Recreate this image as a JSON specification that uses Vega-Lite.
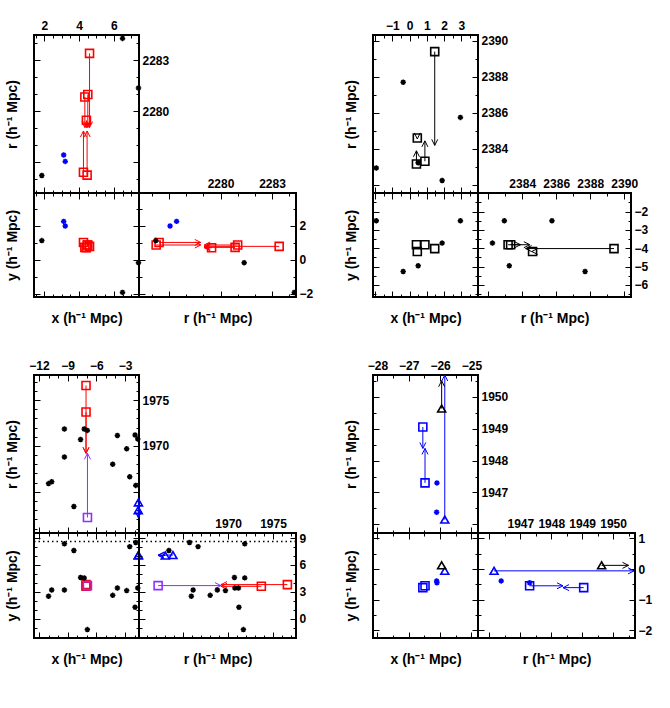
{
"$schema":"https://vega.github.io/schema/vega-lite/v6.json",
"padding":{"left":4,"top":18,"right":0,"bottom":0},
"background":"white",
"columns":5,"spacing":0,"bounds":"flush","align":"each",
"datasets":{
"g1":[
{"x":4.6,"y":0.78,"r":2283.42,"rn":2279.05,"s":"s1"},
{"x":4.5,"y":0.86,"r":2281.0,"rn":2279.05,"s":"s1"},
{"x":4.33,"y":0.72,"r":2280.85,"rn":2279.05,"s":"s1"},
{"x":4.42,"y":0.7,"r":2279.48,"rn":2279.05,"s":"s1"},
{"x":4.25,"y":1.01,"r":2276.42,"rn":2278.85,"s":"s1"},
{"x":4.46,"y":0.86,"r":2276.25,"rn":2278.85,"s":"s1"},
{"x":3.11,"y":2.25,"r":2277.44,"s":"f1"},
{"x":3.2,"y":1.98,"r":2277.06,"s":"f1"},
{"x":1.85,"y":1.12,"r":2276.23,"s":"f0"},
{"x":6.5,"y":-1.93,"r":2284.3,"s":"f0"},
{"x":7.42,"y":-0.18,"r":2281.38,"s":"f0"}],
"g2":[
{"x":1.46,"y":-4.02,"r":2389.4,"rn":2384.2,"s":"s2"},
{"x":0.4,"y":-3.81,"r":2383.17,"rn":2383.9,"s":"s2"},
{"x":0.89,"y":-3.81,"r":2383.32,"rn":2384.45,"s":"s2"},
{"x":0.45,"y":-4.18,"r":2384.61,"rn":2384.56,"s":"s2"},
{"x":-1.93,"y":-2.5,"r":2382.95,"s":"f0"},
{"x":2.95,"y":-2.5,"r":2385.75,"s":"f0"},
{"x":1.89,"y":-3.72,"r":2382.25,"s":"f0"},
{"x":-0.37,"y":-5.27,"r":2387.7,"s":"f0"},
{"x":0.5,"y":-4.96,"r":2383.24,"s":"f0"}],
"g3":[
{"x":-7.08,"y":3.8,"r":1976.6,"rn":1969.2,"s":"s1"},
{"x":-7.08,"y":3.61,"r":1973.7,"rn":1969.2,"s":"s1"},
{"x":-6.93,"y":3.69,"r":1962.2,"rn":1969.2,"s":"s3"},
{"x":-1.6,"y":7.1,"r":1963.85,"rn":1962.2,"s":"t1"},
{"x":-1.62,"y":7.05,"r":1963.0,"rn":1962.2,"s":"t1"},
{"x":-9.34,"y":8.35,"r":1971.85,"s":"f0"},
{"x":-7.27,"y":4.55,"r":1971.85,"s":"f0"},
{"x":-6.94,"y":-1.22,"r":1971.7,"s":"f0"},
{"x":-7.65,"y":4.6,"r":1970.7,"s":"f0"},
{"x":-9.34,"y":3.2,"r":1968.8,"s":"f0"},
{"x":-11.0,"y":2.5,"r":1965.9,"s":"f0"},
{"x":-10.67,"y":3.2,"r":1966.1,"s":"f0"},
{"x":-8.35,"y":7.6,"r":1963.4,"s":"f0"},
{"x":-3.8,"y":3.42,"r":1971.15,"s":"f0"},
{"x":-2.83,"y":3.13,"r":1969.7,"s":"f0"},
{"x":-4.29,"y":2.6,"r":1968.0,"s":"f0"},
{"x":-2.51,"y":8.04,"r":1966.65,"s":"f0"},
{"x":-1.88,"y":8.5,"r":1965.7,"s":"f0"},
{"x":-1.95,"y":1.27,"r":1971.2,"s":"f0"},
{"x":-1.67,"y":3.42,"r":1970.75,"s":"f0"}],
"g4":[
{"x":-26.55,"y":-0.61,"r":1949.05,"rn":1948.38,"s":"s4"},
{"x":-26.48,"y":-0.55,"r":1947.3,"rn":1948.38,"s":"s4"},
{"x":-25.85,"y":-0.06,"r":1946.15,"rn":1950.68,"s":"t1"},
{"x":-25.95,"y":0.12,"r":1949.63,"rn":1950.5,"s":"t2"},
{"x":-26.11,"y":-0.39,"r":1946.38,"s":"f1"},
{"x":-26.1,"y":-0.45,"r":1947.3,"s":"f1"}]
},
"concat":[
{"width":105,"height":158,"view":{"stroke":"black","strokeWidth":2},"data":{"name":"g1"},"resolve":{"axis":{"x":"independent","y":"independent"}},"layer":[
{"transform":[{"filter":"isValid(datum.rn)"}],"mark":{"type":"rule","strokeWidth":1},"encoding":{
"x":{"field":"x","type":"quantitative","scale":{"domain":[1.4,7.45],"nice":false,"zero":false},"axis":{"orient":"bottom","values":[1.5,2,2.5,3,3.5,4,4.5,5,5.5,6,6.5,7],"labels":false,"title":null,"domain":false,"ticks":true,"tickColor":"black","tickWidth":1,"tickSize":{"condition":{"test":"indexof([2,4,6],datum.value)>=0","value":-6},"value":-3}}},
"y":{"field":"r","type":"quantitative","scale":{"domain":[2275.2,2284.5],"nice":false,"zero":false},"axis":{"orient":"left","values":[2276,2277,2278,2279,2280,2281,2282,2283,2284],"labels":false,"title":"r (h⁻¹ Mpc)","domain":false,"ticks":true,"tickColor":"black","tickWidth":1,"tickSize":{"condition":{"test":"indexof([2277,2280,2283],datum.value)>=0","value":-6},"value":-3}}},
"y2":{"field":"rn"},
"color":{"field":"s","type":"nominal","scale":{"domain":["s1","s2","s3","s4","t1","t2","f0","f1"],"range":["#ff0000","#000000","#9030ff","#0000ff","#0000ff","#000000","#000000","#0000ff"]},"legend":null}}},
{"transform":[{"filter":"isValid(datum.rn)"}],"mark":{"type":"point","shape":"M-1,-0.5L0,0L-1,0.5","filled":false,"size":144,"strokeWidth":1,"opacity":1},"encoding":{
"x":{"field":"x","type":"quantitative","axis":{"orient":"top","values":[1.5,2,2.5,3,3.5,4,4.5,5,5.5,6,6.5,7],"labels":false,"title":null,"domain":false,"ticks":true,"tickColor":"black","tickWidth":1,"tickSize":{"condition":{"test":"indexof([2,4,6],datum.value)>=0","value":-6},"value":-3}}},
"y":{"field":"rn","type":"quantitative","axis":{"orient":"right","values":[2276,2277,2278,2279,2280,2281,2282,2283,2284],"labels":false,"title":null,"domain":false,"ticks":true,"tickColor":"black","tickWidth":1,"tickSize":{"condition":{"test":"indexof([2277,2280,2283],datum.value)>=0","value":-6},"value":-3}}},
"angle":{"condition":{"test":"datum.rn < datum.r","value":90},"value":270},
"color":{"field":"s","type":"nominal","legend":null}}},
{"transform":[{"filter":{"not":{"field":"s","oneOf":["f0","f1"]}}}],"mark":{"type":"point","filled":false,"size":64,"strokeWidth":1.6,"opacity":1},"encoding":{
"x":{"field":"x","type":"quantitative","axis":{"orient":"top","values":[2,4,6],"ticks":false,"domain":false,"format":"d","title":null}},
"y":{"field":"r","type":"quantitative","axis":{"orient":"right","values":[2280,2283],"ticks":false,"domain":false,"format":"d","title":null}},
"shape":{"field":"s","type":"nominal","scale":{"domain":["s1","s2","s3","s4","t1","t2"],"range":["square","square","square","square","triangle-up","triangle-up"]},"legend":null},
"color":{"field":"s","type":"nominal","legend":null}}},
{"transform":[{"filter":{"field":"s","oneOf":["f0","f1"]}}],"mark":{"type":"point","shape":"M-1,0L1,0M0,-1L0,1M-0.7,-0.7L0.7,0.7M-0.7,0.7L0.7,-0.7","filled":false,"size":30,"strokeWidth":1.5,"opacity":1},"encoding":{
"x":{"field":"x","type":"quantitative","axis":null},
"y":{"field":"r","type":"quantitative","axis":null},
"color":{"field":"s","type":"nominal","legend":null}}}
]},
{"width":1,"height":1,"data":{"values":[{}]},"mark":{"type":"point","opacity":0},"encoding":{}},
{"width":1,"height":1,"data":{"values":[{}]},"mark":{"type":"point","opacity":0},"encoding":{}},
{"width":105,"height":158,"view":{"stroke":"black","strokeWidth":2},"data":{"name":"g2"},"resolve":{"axis":{"x":"independent","y":"independent"}},"layer":[
{"transform":[{"filter":"isValid(datum.rn)"}],"mark":{"type":"rule","strokeWidth":1},"encoding":{
"x":{"field":"x","type":"quantitative","scale":{"domain":[-2.12,3.97],"nice":false,"zero":false},"axis":{"orient":"bottom","values":[-2,-1.5,-1,-0.5,0,0.5,1,1.5,2,2.5,3,3.5],"labels":false,"title":null,"domain":false,"ticks":true,"tickColor":"black","tickWidth":1,"tickSize":{"condition":{"test":"indexof([-2,-1,0,1,2,3],datum.value)>=0","value":-6},"value":-3}}},
"y":{"field":"r","type":"quantitative","scale":{"domain":[2381.56,2390.32],"nice":false,"zero":false},"axis":{"orient":"left","values":[2382,2383,2384,2385,2386,2387,2388,2389,2390],"labels":false,"title":"r (h⁻¹ Mpc)","domain":false,"ticks":true,"tickColor":"black","tickWidth":1,"tickSize":{"condition":{"test":"indexof([2382,2384,2386,2388,2390],datum.value)>=0","value":-6},"value":-3}}},
"y2":{"field":"rn"},
"color":{"field":"s","type":"nominal","legend":null}}},
{"transform":[{"filter":"isValid(datum.rn)"}],"mark":{"type":"point","shape":"M-1,-0.5L0,0L-1,0.5","filled":false,"size":144,"strokeWidth":1,"opacity":1},"encoding":{
"x":{"field":"x","type":"quantitative","axis":{"orient":"top","values":[-2,-1.5,-1,-0.5,0,0.5,1,1.5,2,2.5,3,3.5],"labels":false,"title":null,"domain":false,"ticks":true,"tickColor":"black","tickWidth":1,"tickSize":{"condition":{"test":"indexof([-2,-1,0,1,2,3],datum.value)>=0","value":-6},"value":-3}}},
"y":{"field":"rn","type":"quantitative","axis":{"orient":"right","values":[2382,2383,2384,2385,2386,2387,2388,2389,2390],"labels":false,"title":null,"domain":false,"ticks":true,"tickColor":"black","tickWidth":1,"tickSize":{"condition":{"test":"indexof([2382,2384,2386,2388,2390],datum.value)>=0","value":-6},"value":-3}}},
"angle":{"condition":{"test":"datum.rn < datum.r","value":90},"value":270},
"color":{"field":"s","type":"nominal","legend":null}}},
{"transform":[{"filter":{"not":{"field":"s","oneOf":["f0","f1"]}}}],"mark":{"type":"point","filled":false,"size":64,"strokeWidth":1.6,"opacity":1},"encoding":{
"x":{"field":"x","type":"quantitative","axis":{"orient":"top","values":[-1,0,1,2,3],"ticks":false,"domain":false,"format":"d","title":null}},
"y":{"field":"r","type":"quantitative","axis":{"orient":"right","values":[2384,2386,2388,2390],"ticks":false,"domain":false,"format":"d","title":null}},
"shape":{"field":"s","type":"nominal","legend":null},
"color":{"field":"s","type":"nominal","legend":null}}},
{"transform":[{"filter":{"field":"s","oneOf":["f0","f1"]}}],"mark":{"type":"point","shape":"M-1,0L1,0M0,-1L0,1M-0.7,-0.7L0.7,0.7M-0.7,0.7L0.7,-0.7","filled":false,"size":30,"strokeWidth":1.5,"opacity":1},"encoding":{
"x":{"field":"x","type":"quantitative","axis":null},
"y":{"field":"r","type":"quantitative","axis":null},
"color":{"field":"s","type":"nominal","legend":null}}}
]},
{"width":1,"height":1,"data":{"values":[{}]},"mark":{"type":"point","opacity":0},"encoding":{}},

{"width":105,"height":104,"view":{"stroke":"black","strokeWidth":2},"data":{"name":"g1"},"resolve":{"axis":{"x":"independent","y":"independent"}},"layer":[
{"transform":[{"filter":{"not":{"field":"s","oneOf":["f0","f1"]}}}],"mark":{"type":"point","filled":false,"size":64,"strokeWidth":1.6,"opacity":1},"encoding":{
"x":{"field":"x","type":"quantitative","scale":{"domain":[1.4,7.45],"nice":false,"zero":false},"axis":{"orient":"bottom","values":[1.5,2,2.5,3,3.5,4,4.5,5,5.5,6,6.5,7],"labels":false,"title":"x (h⁻¹ Mpc)","domain":false,"ticks":true,"tickColor":"black","tickWidth":1,"tickSize":{"condition":{"test":"indexof([2,4,6],datum.value)>=0","value":-6},"value":-3}}},
"y":{"field":"y","type":"quantitative","scale":{"domain":[-2.2,3.92],"nice":false,"zero":false},"axis":{"orient":"left","values":[-2,-1,0,1,2,3],"labels":false,"title":"y (h⁻¹ Mpc)","domain":false,"ticks":true,"tickColor":"black","tickWidth":1,"tickSize":{"condition":{"test":"indexof([-2,0,2],datum.value)>=0","value":-6},"value":-3}}},
"shape":{"field":"s","type":"nominal","legend":null},
"color":{"field":"s","type":"nominal","legend":null}}},
{"transform":[{"filter":{"field":"s","oneOf":["f0","f1"]}}],"mark":{"type":"point","shape":"M-1,0L1,0M0,-1L0,1M-0.7,-0.7L0.7,0.7M-0.7,0.7L0.7,-0.7","filled":false,"size":30,"strokeWidth":1.5,"opacity":1},"encoding":{
"x":{"field":"x","type":"quantitative","axis":{"orient":"top","values":[1.5,2,2.5,3,3.5,4,4.5,5,5.5,6,6.5,7],"labels":false,"title":null,"domain":false,"ticks":true,"tickColor":"black","tickWidth":1,"tickSize":{"condition":{"test":"indexof([2,4,6],datum.value)>=0","value":-6},"value":-3}}},
"y":{"field":"y","type":"quantitative","axis":{"orient":"right","values":[-2,-1,0,1,2,3],"labels":false,"title":null,"domain":false,"ticks":true,"tickColor":"black","tickWidth":1,"tickSize":{"condition":{"test":"indexof([-2,0,2],datum.value)>=0","value":-6},"value":-3}}},
"color":{"field":"s","type":"nominal","legend":null}}}
]},
{"width":157,"height":104,"view":{"stroke":"black","strokeWidth":2},"data":{"name":"g1"},"resolve":{"axis":{"x":"independent","y":"independent"}},"layer":[
{"transform":[{"filter":"isValid(datum.rn)"}],"mark":{"type":"rule","strokeWidth":1},"encoding":{
"x":{"field":"r","type":"quantitative","scale":{"domain":[2275.25,2284.4],"nice":false,"zero":false},"axis":{"orient":"bottom","values":[2276,2277,2278,2279,2280,2281,2282,2283,2284],"labels":false,"title":"r (h⁻¹ Mpc)","domain":false,"ticks":true,"tickColor":"black","tickWidth":1,"tickSize":{"condition":{"test":"indexof([2277,2280,2283],datum.value)>=0","value":-6},"value":-3}}},
"x2":{"field":"rn"},
"y":{"field":"y","type":"quantitative","scale":{"domain":[-2.2,3.92],"nice":false,"zero":false},"axis":{"orient":"left","values":[-2,-1,0,1,2,3],"labels":false,"title":null,"domain":false,"ticks":true,"tickColor":"black","tickWidth":1,"tickSize":{"condition":{"test":"indexof([-2,0,2],datum.value)>=0","value":-6},"value":-3}}},
"color":{"field":"s","type":"nominal","legend":null}}},
{"transform":[{"filter":"isValid(datum.rn)"}],"mark":{"type":"point","shape":"M-1,-0.5L0,0L-1,0.5","filled":false,"size":144,"strokeWidth":1,"opacity":1},"encoding":{
"x":{"field":"rn","type":"quantitative","axis":{"orient":"top","values":[2276,2277,2278,2279,2280,2281,2282,2283,2284],"labels":false,"title":null,"domain":false,"ticks":true,"tickColor":"black","tickWidth":1,"tickSize":{"condition":{"test":"indexof([2277,2280,2283],datum.value)>=0","value":-6},"value":-3}}},
"y":{"field":"y","type":"quantitative","axis":{"orient":"right","values":[-2,-1,0,1,2,3],"labels":false,"title":null,"domain":false,"ticks":true,"tickColor":"black","tickWidth":1,"tickSize":{"condition":{"test":"indexof([-2,0,2],datum.value)>=0","value":-6},"value":-3}}},
"angle":{"condition":{"test":"datum.rn < datum.r","value":180},"value":0},
"color":{"field":"s","type":"nominal","legend":null}}},
{"transform":[{"filter":{"not":{"field":"s","oneOf":["f0","f1"]}}}],"mark":{"type":"point","filled":false,"size":64,"strokeWidth":1.6,"opacity":1},"encoding":{
"x":{"field":"r","type":"quantitative","axis":{"orient":"top","values":[2280,2283],"ticks":false,"domain":false,"format":"d","title":null}},
"y":{"field":"y","type":"quantitative","axis":{"orient":"right","values":[-2,0,2],"ticks":false,"domain":false,"format":"d","title":null}},
"shape":{"field":"s","type":"nominal","legend":null},
"color":{"field":"s","type":"nominal","legend":null}}},
{"transform":[{"filter":{"field":"s","oneOf":["f0","f1"]}}],"mark":{"type":"point","shape":"M-1,0L1,0M0,-1L0,1M-0.7,-0.7L0.7,0.7M-0.7,0.7L0.7,-0.7","filled":false,"size":30,"strokeWidth":1.5,"opacity":1},"encoding":{
"x":{"field":"r","type":"quantitative","axis":null},
"y":{"field":"y","type":"quantitative","axis":null},
"color":{"field":"s","type":"nominal","legend":null}}}
]},
{"width":1,"height":1,"data":{"values":[{}]},"mark":{"type":"point","opacity":0},"encoding":{}},
{"width":105,"height":104,"view":{"stroke":"black","strokeWidth":2},"data":{"name":"g2"},"resolve":{"axis":{"x":"independent","y":"independent"}},"layer":[
{"transform":[{"filter":{"not":{"field":"s","oneOf":["f0","f1"]}}}],"mark":{"type":"point","filled":false,"size":64,"strokeWidth":1.6,"opacity":1},"encoding":{
"x":{"field":"x","type":"quantitative","scale":{"domain":[-2.12,3.97],"nice":false,"zero":false},"axis":{"orient":"bottom","values":[-2,-1.5,-1,-0.5,0,0.5,1,1.5,2,2.5,3,3.5],"labels":false,"title":"x (h⁻¹ Mpc)","domain":false,"ticks":true,"tickColor":"black","tickWidth":1,"tickSize":{"condition":{"test":"indexof([-2,-1,0,1,2,3],datum.value)>=0","value":-6},"value":-3}}},
"y":{"field":"y","type":"quantitative","scale":{"domain":[-6.66,-0.99],"nice":false,"zero":false},"axis":{"orient":"left","values":[-6.5,-6,-5.5,-5,-4.5,-4,-3.5,-3,-2.5,-2,-1.5,-1],"labels":false,"title":"y (h⁻¹ Mpc)","domain":false,"ticks":true,"tickColor":"black","tickWidth":1,"tickSize":{"condition":{"test":"indexof([-6,-5,-4,-3,-2],datum.value)>=0","value":-6},"value":-3}}},
"shape":{"field":"s","type":"nominal","legend":null},
"color":{"field":"s","type":"nominal","legend":null}}},
{"transform":[{"filter":{"field":"s","oneOf":["f0","f1"]}}],"mark":{"type":"point","shape":"M-1,0L1,0M0,-1L0,1M-0.7,-0.7L0.7,0.7M-0.7,0.7L0.7,-0.7","filled":false,"size":30,"strokeWidth":1.5,"opacity":1},"encoding":{
"x":{"field":"x","type":"quantitative","axis":{"orient":"top","values":[-2,-1.5,-1,-0.5,0,0.5,1,1.5,2,2.5,3,3.5],"labels":false,"title":null,"domain":false,"ticks":true,"tickColor":"black","tickWidth":1,"tickSize":{"condition":{"test":"indexof([-2,-1,0,1,2,3],datum.value)>=0","value":-6},"value":-3}}},
"y":{"field":"y","type":"quantitative","axis":{"orient":"right","values":[-6.5,-6,-5.5,-5,-4.5,-4,-3.5,-3,-2.5,-2,-1.5,-1],"labels":false,"title":null,"domain":false,"ticks":true,"tickColor":"black","tickWidth":1,"tickSize":{"condition":{"test":"indexof([-6,-5,-4,-3,-2],datum.value)>=0","value":-6},"value":-3}}},
"color":{"field":"s","type":"nominal","legend":null}}}
]},
{"width":153,"height":104,"view":{"stroke":"black","strokeWidth":2},"data":{"name":"g2"},"resolve":{"axis":{"x":"independent","y":"independent"}},"layer":[
{"transform":[{"filter":"isValid(datum.rn)"}],"mark":{"type":"rule","strokeWidth":1},"encoding":{
"x":{"field":"r","type":"quantitative","scale":{"domain":[2381.4,2390.4],"nice":false,"zero":false},"axis":{"orient":"bottom","values":[2382,2383,2384,2385,2386,2387,2388,2389,2390],"labels":false,"title":"r (h⁻¹ Mpc)","domain":false,"ticks":true,"tickColor":"black","tickWidth":1,"tickSize":{"condition":{"test":"indexof([2382,2384,2386,2388,2390],datum.value)>=0","value":-6},"value":-3}}},
"x2":{"field":"rn"},
"y":{"field":"y","type":"quantitative","scale":{"domain":[-6.66,-0.99],"nice":false,"zero":false},"axis":{"orient":"left","values":[-6.5,-6,-5.5,-5,-4.5,-4,-3.5,-3,-2.5,-2,-1.5,-1],"labels":false,"title":null,"domain":false,"ticks":true,"tickColor":"black","tickWidth":1,"tickSize":{"condition":{"test":"indexof([-6,-5,-4,-3,-2],datum.value)>=0","value":-6},"value":-3}}},
"color":{"field":"s","type":"nominal","legend":null}}},
{"transform":[{"filter":"isValid(datum.rn)"}],"mark":{"type":"point","shape":"M-1,-0.5L0,0L-1,0.5","filled":false,"size":144,"strokeWidth":1,"opacity":1},"encoding":{
"x":{"field":"rn","type":"quantitative","axis":{"orient":"top","values":[2382,2383,2384,2385,2386,2387,2388,2389,2390],"labels":false,"title":null,"domain":false,"ticks":true,"tickColor":"black","tickWidth":1,"tickSize":{"condition":{"test":"indexof([2382,2384,2386,2388,2390],datum.value)>=0","value":-6},"value":-3}}},
"y":{"field":"y","type":"quantitative","axis":{"orient":"right","values":[-6.5,-6,-5.5,-5,-4.5,-4,-3.5,-3,-2.5,-2,-1.5,-1],"labels":false,"title":null,"domain":false,"ticks":true,"tickColor":"black","tickWidth":1,"tickSize":{"condition":{"test":"indexof([-6,-5,-4,-3,-2],datum.value)>=0","value":-6},"value":-3}}},
"angle":{"condition":{"test":"datum.rn < datum.r","value":180},"value":0},
"color":{"field":"s","type":"nominal","legend":null}}},
{"transform":[{"filter":{"not":{"field":"s","oneOf":["f0","f1"]}}}],"mark":{"type":"point","filled":false,"size":64,"strokeWidth":1.6,"opacity":1},"encoding":{
"x":{"field":"r","type":"quantitative","axis":{"orient":"top","values":[2384,2386,2388,2390],"ticks":false,"domain":false,"format":"d","title":null}},
"y":{"field":"y","type":"quantitative","axis":{"orient":"right","values":[-6,-5,-4,-3,-2],"ticks":false,"domain":false,"format":"d","title":null}},
"shape":{"field":"s","type":"nominal","legend":null},
"color":{"field":"s","type":"nominal","legend":null}}},
{"transform":[{"filter":{"field":"s","oneOf":["f0","f1"]}}],"mark":{"type":"point","shape":"M-1,0L1,0M0,-1L0,1M-0.7,-0.7L0.7,0.7M-0.7,0.7L0.7,-0.7","filled":false,"size":30,"strokeWidth":1.5,"opacity":1},"encoding":{
"x":{"field":"r","type":"quantitative","axis":null},
"y":{"field":"y","type":"quantitative","axis":null},
"color":{"field":"s","type":"nominal","legend":null}}}
]},

{"width":1,"height":1,"data":{"values":[{}]},"mark":{"type":"point","opacity":0},"encoding":{}},
{"width":1,"height":1,"data":{"values":[{}]},"mark":{"type":"point","opacity":0},"encoding":{}},
{"width":77,"height":78,"data":{"values":[{}]},"mark":{"type":"point","opacity":0},"encoding":{}},
{"width":1,"height":1,"data":{"values":[{}]},"mark":{"type":"point","opacity":0},"encoding":{}},
{"width":1,"height":1,"data":{"values":[{}]},"mark":{"type":"point","opacity":0},"encoding":{}},

{"width":105,"height":158,"view":{"stroke":"black","strokeWidth":2},"data":{"name":"g3"},"resolve":{"axis":{"x":"independent","y":"independent"}},"layer":[
{"transform":[{"filter":"isValid(datum.rn)"}],"mark":{"type":"rule","strokeWidth":1},"encoding":{
"x":{"field":"x","type":"quantitative","scale":{"domain":[-12.52,-1.54],"nice":false,"zero":false},"axis":{"orient":"bottom","values":[-12,-11,-10,-9,-8,-7,-6,-5,-4,-3,-2],"labels":false,"title":null,"domain":false,"ticks":true,"tickColor":"black","tickWidth":1,"tickSize":{"condition":{"test":"indexof([-12,-9,-6,-3],datum.value)>=0","value":-6},"value":-3}}},
"y":{"field":"r","type":"quantitative","scale":{"domain":[1960.51,1977.74],"nice":false,"zero":false},"axis":{"orient":"left","values":[1961,1962,1963,1964,1965,1966,1967,1968,1969,1970,1971,1972,1973,1974,1975,1976,1977],"labels":false,"title":"r (h⁻¹ Mpc)","domain":false,"ticks":true,"tickColor":"black","tickWidth":1,"tickSize":{"condition":{"test":"indexof([1965,1970,1975],datum.value)>=0","value":-6},"value":-3}}},
"y2":{"field":"rn"},
"color":{"field":"s","type":"nominal","legend":null}}},
{"transform":[{"filter":"isValid(datum.rn)"}],"mark":{"type":"point","shape":"M-1,-0.5L0,0L-1,0.5","filled":false,"size":144,"strokeWidth":1,"opacity":1},"encoding":{
"x":{"field":"x","type":"quantitative","axis":{"orient":"top","values":[-12,-11,-10,-9,-8,-7,-6,-5,-4,-3,-2],"labels":false,"title":null,"domain":false,"ticks":true,"tickColor":"black","tickWidth":1,"tickSize":{"condition":{"test":"indexof([-12,-9,-6,-3],datum.value)>=0","value":-6},"value":-3}}},
"y":{"field":"rn","type":"quantitative","axis":{"orient":"right","values":[1961,1962,1963,1964,1965,1966,1967,1968,1969,1970,1971,1972,1973,1974,1975,1976,1977],"labels":false,"title":null,"domain":false,"ticks":true,"tickColor":"black","tickWidth":1,"tickSize":{"condition":{"test":"indexof([1965,1970,1975],datum.value)>=0","value":-6},"value":-3}}},
"angle":{"condition":{"test":"datum.rn < datum.r","value":90},"value":270},
"color":{"field":"s","type":"nominal","legend":null}}},
{"transform":[{"filter":{"not":{"field":"s","oneOf":["f0","f1"]}}}],"mark":{"type":"point","filled":false,"size":64,"strokeWidth":1.6,"opacity":1},"encoding":{
"x":{"field":"x","type":"quantitative","axis":{"orient":"top","values":[-12,-9,-6,-3],"ticks":false,"domain":false,"format":"d","title":null}},
"y":{"field":"r","type":"quantitative","axis":{"orient":"right","values":[1970,1975],"ticks":false,"domain":false,"format":"d","title":null}},
"shape":{"field":"s","type":"nominal","legend":null},
"color":{"field":"s","type":"nominal","legend":null}}},
{"transform":[{"filter":{"field":"s","oneOf":["f0","f1"]}}],"mark":{"type":"point","shape":"M-1,0L1,0M0,-1L0,1M-0.7,-0.7L0.7,0.7M-0.7,0.7L0.7,-0.7","filled":false,"size":30,"strokeWidth":1.5,"opacity":1},"encoding":{
"x":{"field":"x","type":"quantitative","axis":null},
"y":{"field":"r","type":"quantitative","axis":null},
"color":{"field":"s","type":"nominal","legend":null}}}
]},
{"width":1,"height":1,"data":{"values":[{}]},"mark":{"type":"point","opacity":0},"encoding":{}},
{"width":1,"height":1,"data":{"values":[{}]},"mark":{"type":"point","opacity":0},"encoding":{}},
{"width":105,"height":158,"view":{"stroke":"black","strokeWidth":2},"data":{"name":"g4"},"resolve":{"axis":{"x":"independent","y":"independent"}},"layer":[
{"transform":[{"filter":"isValid(datum.rn)"}],"mark":{"type":"rule","strokeWidth":1},"encoding":{
"x":{"field":"x","type":"quantitative","scale":{"domain":[-28.14,-24.79],"nice":false,"zero":false},"axis":{"orient":"bottom","values":[-28,-27.5,-27,-26.5,-26,-25.5,-25],"labels":false,"title":null,"domain":false,"ticks":true,"tickColor":"black","tickWidth":1,"tickSize":{"condition":{"test":"indexof([-28,-27,-26,-25],datum.value)>=0","value":-6},"value":-3}}},
"y":{"field":"r","type":"quantitative","scale":{"domain":[1945.73,1950.68],"nice":false,"zero":false},"axis":{"orient":"left","values":[1946,1946.5,1947,1947.5,1948,1948.5,1949,1949.5,1950,1950.5],"labels":false,"title":"r (h⁻¹ Mpc)","domain":false,"ticks":true,"tickColor":"black","tickWidth":1,"tickSize":{"condition":{"test":"indexof([1946,1947,1948,1949,1950],datum.value)>=0","value":-6},"value":-3}}},
"y2":{"field":"rn"},
"color":{"field":"s","type":"nominal","legend":null}}},
{"transform":[{"filter":"isValid(datum.rn)"}],"mark":{"type":"point","shape":"M-1,-0.5L0,0L-1,0.5","filled":false,"size":144,"strokeWidth":1,"opacity":1},"encoding":{
"x":{"field":"x","type":"quantitative","axis":{"orient":"top","values":[-28,-27.5,-27,-26.5,-26,-25.5,-25],"labels":false,"title":null,"domain":false,"ticks":true,"tickColor":"black","tickWidth":1,"tickSize":{"condition":{"test":"indexof([-28,-27,-26,-25],datum.value)>=0","value":-6},"value":-3}}},
"y":{"field":"rn","type":"quantitative","axis":{"orient":"right","values":[1946,1946.5,1947,1947.5,1948,1948.5,1949,1949.5,1950,1950.5],"labels":false,"title":null,"domain":false,"ticks":true,"tickColor":"black","tickWidth":1,"tickSize":{"condition":{"test":"indexof([1946,1947,1948,1949,1950],datum.value)>=0","value":-6},"value":-3}}},
"angle":{"condition":{"test":"datum.rn < datum.r","value":90},"value":270},
"color":{"field":"s","type":"nominal","legend":null}}},
{"transform":[{"filter":{"not":{"field":"s","oneOf":["f0","f1"]}}}],"mark":{"type":"point","filled":false,"size":64,"strokeWidth":1.6,"opacity":1},"encoding":{
"x":{"field":"x","type":"quantitative","axis":{"orient":"top","values":[-28,-27,-26,-25],"ticks":false,"domain":false,"format":"d","title":null}},
"y":{"field":"r","type":"quantitative","axis":{"orient":"right","values":[1947,1948,1949,1950],"ticks":false,"domain":false,"format":"d","title":null}},
"shape":{"field":"s","type":"nominal","legend":null},
"color":{"field":"s","type":"nominal","legend":null}}},
{"transform":[{"filter":{"field":"s","oneOf":["f0","f1"]}}],"mark":{"type":"point","shape":"M-1,0L1,0M0,-1L0,1M-0.7,-0.7L0.7,0.7M-0.7,0.7L0.7,-0.7","filled":false,"size":30,"strokeWidth":1.5,"opacity":1},"encoding":{
"x":{"field":"x","type":"quantitative","axis":null},
"y":{"field":"r","type":"quantitative","axis":null},
"color":{"field":"s","type":"nominal","legend":null}}}
]},
{"width":1,"height":1,"data":{"values":[{}]},"mark":{"type":"point","opacity":0},"encoding":{}},

{"width":105,"height":105,"view":{"stroke":"black","strokeWidth":2},"data":{"name":"g3"},"resolve":{"axis":{"x":"independent","y":"independent"}},"layer":[
{"transform":[{"filter":{"not":{"field":"s","oneOf":["f0","f1"]}}}],"mark":{"type":"point","filled":false,"size":64,"strokeWidth":1.6,"opacity":1},"encoding":{
"x":{"field":"x","type":"quantitative","scale":{"domain":[-12.52,-1.54],"nice":false,"zero":false},"axis":{"orient":"bottom","values":[-12,-11,-10,-9,-8,-7,-6,-5,-4,-3,-2],"labels":false,"title":"x (h⁻¹ Mpc)","domain":false,"ticks":true,"tickColor":"black","tickWidth":1,"tickSize":{"condition":{"test":"indexof([-12,-9,-6,-3],datum.value)>=0","value":-6},"value":-3}}},
"y":{"field":"y","type":"quantitative","scale":{"domain":[-2.16,9.56],"nice":false,"zero":false},"axis":{"orient":"left","values":[-2,-1,0,1,2,3,4,5,6,7,8,9],"labels":false,"title":"y (h⁻¹ Mpc)","domain":false,"ticks":true,"tickColor":"black","tickWidth":1,"tickSize":{"condition":{"test":"indexof([0,3,6,9],datum.value)>=0","value":-6},"value":-3}}},
"shape":{"field":"s","type":"nominal","legend":null},
"color":{"field":"s","type":"nominal","legend":null}}},
{"transform":[{"filter":{"field":"s","oneOf":["f0","f1"]}}],"mark":{"type":"point","shape":"M-1,0L1,0M0,-1L0,1M-0.7,-0.7L0.7,0.7M-0.7,0.7L0.7,-0.7","filled":false,"size":30,"strokeWidth":1.5,"opacity":1},"encoding":{
"x":{"field":"x","type":"quantitative","axis":{"orient":"top","values":[-12,-11,-10,-9,-8,-7,-6,-5,-4,-3,-2],"labels":false,"title":null,"domain":false,"ticks":true,"tickColor":"black","tickWidth":1,"tickSize":{"condition":{"test":"indexof([-12,-9,-6,-3],datum.value)>=0","value":-6},"value":-3}}},
"y":{"field":"y","type":"quantitative","axis":{"orient":"right","values":[-2,-1,0,1,2,3,4,5,6,7,8,9],"labels":false,"title":null,"domain":false,"ticks":true,"tickColor":"black","tickWidth":1,"tickSize":{"condition":{"test":"indexof([0,3,6,9],datum.value)>=0","value":-6},"value":-3}}},
"color":{"field":"s","type":"nominal","legend":null}}},
{"data":{"values":[{}]},"mark":{"type":"rule","strokeDash":[1.5,3],"strokeWidth":1.5,"color":"black"},"encoding":{"y":{"datum":8.6,"type":"quantitative","axis":null}}}
]},
{"width":157,"height":105,"view":{"stroke":"black","strokeWidth":2},"data":{"name":"g3"},"resolve":{"axis":{"x":"independent","y":"independent"}},"layer":[
{"transform":[{"filter":"isValid(datum.rn)"}],"mark":{"type":"rule","strokeWidth":1},"encoding":{
"x":{"field":"r","type":"quantitative","scale":{"domain":[1960.07,1977.56],"nice":false,"zero":false},"axis":{"orient":"bottom","values":[1961,1962,1963,1964,1965,1966,1967,1968,1969,1970,1971,1972,1973,1974,1975,1976,1977],"labels":false,"title":"r (h⁻¹ Mpc)","domain":false,"ticks":true,"tickColor":"black","tickWidth":1,"tickSize":{"condition":{"test":"indexof([1965,1970,1975],datum.value)>=0","value":-6},"value":-3}}},
"x2":{"field":"rn"},
"y":{"field":"y","type":"quantitative","scale":{"domain":[-2.16,9.56],"nice":false,"zero":false},"axis":{"orient":"left","values":[-2,-1,0,1,2,3,4,5,6,7,8,9],"labels":false,"title":null,"domain":false,"ticks":true,"tickColor":"black","tickWidth":1,"tickSize":{"condition":{"test":"indexof([0,3,6,9],datum.value)>=0","value":-6},"value":-3}}},
"color":{"field":"s","type":"nominal","legend":null}}},
{"transform":[{"filter":"isValid(datum.rn)"}],"mark":{"type":"point","shape":"M-1,-0.5L0,0L-1,0.5","filled":false,"size":144,"strokeWidth":1,"opacity":1},"encoding":{
"x":{"field":"rn","type":"quantitative","axis":{"orient":"top","values":[1961,1962,1963,1964,1965,1966,1967,1968,1969,1970,1971,1972,1973,1974,1975,1976,1977],"labels":false,"title":null,"domain":false,"ticks":true,"tickColor":"black","tickWidth":1,"tickSize":{"condition":{"test":"indexof([1965,1970,1975],datum.value)>=0","value":-6},"value":-3}}},
"y":{"field":"y","type":"quantitative","axis":{"orient":"right","values":[-2,-1,0,1,2,3,4,5,6,7,8,9],"labels":false,"title":null,"domain":false,"ticks":true,"tickColor":"black","tickWidth":1,"tickSize":{"condition":{"test":"indexof([0,3,6,9],datum.value)>=0","value":-6},"value":-3}}},
"angle":{"condition":{"test":"datum.rn < datum.r","value":180},"value":0},
"color":{"field":"s","type":"nominal","legend":null}}},
{"transform":[{"filter":{"not":{"field":"s","oneOf":["f0","f1"]}}}],"mark":{"type":"point","filled":false,"size":64,"strokeWidth":1.6,"opacity":1},"encoding":{
"x":{"field":"r","type":"quantitative","axis":{"orient":"top","values":[1970,1975],"ticks":false,"domain":false,"format":"d","title":null}},
"y":{"field":"y","type":"quantitative","axis":{"orient":"right","values":[0,3,6,9],"ticks":false,"domain":false,"format":"d","title":null}},
"shape":{"field":"s","type":"nominal","legend":null},
"color":{"field":"s","type":"nominal","legend":null}}},
{"transform":[{"filter":{"field":"s","oneOf":["f0","f1"]}}],"mark":{"type":"point","shape":"M-1,0L1,0M0,-1L0,1M-0.7,-0.7L0.7,0.7M-0.7,0.7L0.7,-0.7","filled":false,"size":30,"strokeWidth":1.5,"opacity":1},"encoding":{
"x":{"field":"r","type":"quantitative","axis":null},
"y":{"field":"y","type":"quantitative","axis":null},
"color":{"field":"s","type":"nominal","legend":null}}},
{"data":{"values":[{}]},"mark":{"type":"rule","strokeDash":[1.5,3],"strokeWidth":1.5,"color":"black"},"encoding":{"y":{"datum":8.6,"type":"quantitative","axis":null}}}
]},
{"width":1,"height":1,"data":{"values":[{}]},"mark":{"type":"point","opacity":0},"encoding":{}},
{"width":105,"height":105,"view":{"stroke":"black","strokeWidth":2},"data":{"name":"g4"},"resolve":{"axis":{"x":"independent","y":"independent"}},"layer":[
{"transform":[{"filter":{"not":{"field":"s","oneOf":["f0","f1"]}}}],"mark":{"type":"point","filled":false,"size":64,"strokeWidth":1.6,"opacity":1},"encoding":{
"x":{"field":"x","type":"quantitative","scale":{"domain":[-28.14,-24.79],"nice":false,"zero":false},"axis":{"orient":"bottom","values":[-28,-27.5,-27,-26.5,-26,-25.5,-25],"labels":false,"title":"x (h⁻¹ Mpc)","domain":false,"ticks":true,"tickColor":"black","tickWidth":1,"tickSize":{"condition":{"test":"indexof([-28,-27,-26,-25],datum.value)>=0","value":-6},"value":-3}}},
"y":{"field":"y","type":"quantitative","scale":{"domain":[-2.26,1.18],"nice":false,"zero":false},"axis":{"orient":"left","values":[-2,-1.5,-1,-0.5,0,0.5,1],"labels":false,"title":"y (h⁻¹ Mpc)","domain":false,"ticks":true,"tickColor":"black","tickWidth":1,"tickSize":{"condition":{"test":"indexof([-2,-1,0,1],datum.value)>=0","value":-6},"value":-3}}},
"shape":{"field":"s","type":"nominal","legend":null},
"color":{"field":"s","type":"nominal","legend":null}}},
{"transform":[{"filter":{"field":"s","oneOf":["f0","f1"]}}],"mark":{"type":"point","shape":"M-1,0L1,0M0,-1L0,1M-0.7,-0.7L0.7,0.7M-0.7,0.7L0.7,-0.7","filled":false,"size":30,"strokeWidth":1.5,"opacity":1},"encoding":{
"x":{"field":"x","type":"quantitative","axis":{"orient":"top","values":[-28,-27.5,-27,-26.5,-26,-25.5,-25],"labels":false,"title":null,"domain":false,"ticks":true,"tickColor":"black","tickWidth":1,"tickSize":{"condition":{"test":"indexof([-28,-27,-26,-25],datum.value)>=0","value":-6},"value":-3}}},
"y":{"field":"y","type":"quantitative","axis":{"orient":"right","values":[-2,-1.5,-1,-0.5,0,0.5,1],"labels":false,"title":null,"domain":false,"ticks":true,"tickColor":"black","tickWidth":1,"tickSize":{"condition":{"test":"indexof([-2,-1,0,1],datum.value)>=0","value":-6},"value":-3}}},
"color":{"field":"s","type":"nominal","legend":null}}}
]},
{"width":157,"height":105,"view":{"stroke":"black","strokeWidth":2},"data":{"name":"g4"},"resolve":{"axis":{"x":"independent","y":"independent"}},"layer":[
{"transform":[{"filter":"isValid(datum.rn)"}],"mark":{"type":"rule","strokeWidth":1},"encoding":{
"x":{"field":"r","type":"quantitative","scale":{"domain":[1945.63,1950.71],"nice":false,"zero":false},"axis":{"orient":"bottom","values":[1946,1946.5,1947,1947.5,1948,1948.5,1949,1949.5,1950,1950.5],"labels":false,"title":"r (h⁻¹ Mpc)","domain":false,"ticks":true,"tickColor":"black","tickWidth":1,"tickSize":{"condition":{"test":"indexof([1946,1947,1948,1949,1950],datum.value)>=0","value":-6},"value":-3}}},
"x2":{"field":"rn"},
"y":{"field":"y","type":"quantitative","scale":{"domain":[-2.26,1.18],"nice":false,"zero":false},"axis":{"orient":"left","values":[-2,-1.5,-1,-0.5,0,0.5,1],"labels":false,"title":null,"domain":false,"ticks":true,"tickColor":"black","tickWidth":1,"tickSize":{"condition":{"test":"indexof([-2,-1,0,1],datum.value)>=0","value":-6},"value":-3}}},
"color":{"field":"s","type":"nominal","legend":null}}},
{"transform":[{"filter":"isValid(datum.rn)"}],"mark":{"type":"point","shape":"M-1,-0.5L0,0L-1,0.5","filled":false,"size":144,"strokeWidth":1,"opacity":1},"encoding":{
"x":{"field":"rn","type":"quantitative","axis":{"orient":"top","values":[1946,1946.5,1947,1947.5,1948,1948.5,1949,1949.5,1950,1950.5],"labels":false,"title":null,"domain":false,"ticks":true,"tickColor":"black","tickWidth":1,"tickSize":{"condition":{"test":"indexof([1946,1947,1948,1949,1950],datum.value)>=0","value":-6},"value":-3}}},
"y":{"field":"y","type":"quantitative","axis":{"orient":"right","values":[-2,-1.5,-1,-0.5,0,0.5,1],"labels":false,"title":null,"domain":false,"ticks":true,"tickColor":"black","tickWidth":1,"tickSize":{"condition":{"test":"indexof([-2,-1,0,1],datum.value)>=0","value":-6},"value":-3}}},
"angle":{"condition":{"test":"datum.rn < datum.r","value":180},"value":0},
"color":{"field":"s","type":"nominal","legend":null}}},
{"transform":[{"filter":{"not":{"field":"s","oneOf":["f0","f1"]}}}],"mark":{"type":"point","filled":false,"size":64,"strokeWidth":1.6,"opacity":1},"encoding":{
"x":{"field":"r","type":"quantitative","axis":{"orient":"top","values":[1947,1948,1949,1950],"ticks":false,"domain":false,"format":"d","title":null}},
"y":{"field":"y","type":"quantitative","axis":{"orient":"right","values":[-2,-1,0,1],"ticks":false,"domain":false,"format":"d","title":null}},
"shape":{"field":"s","type":"nominal","legend":null},
"color":{"field":"s","type":"nominal","legend":null}}},
{"transform":[{"filter":{"field":"s","oneOf":["f0","f1"]}}],"mark":{"type":"point","shape":"M-1,0L1,0M0,-1L0,1M-0.7,-0.7L0.7,0.7M-0.7,0.7L0.7,-0.7","filled":false,"size":30,"strokeWidth":1.5,"opacity":1},"encoding":{
"x":{"field":"r","type":"quantitative","axis":null},
"y":{"field":"y","type":"quantitative","axis":null},
"color":{"field":"s","type":"nominal","legend":null}}}
]}
],
"config":{
"view":{"stroke":null},
"axis":{"grid":false,"labelFont":"Liberation Sans","labelFontWeight":"bold","labelFontSize":12,"labelColor":"black","labelPadding":3,"titleFont":"Liberation Sans","titleFontWeight":"bold","titleFontSize":14,"titleColor":"black","titlePadding":14,"labelOverlap":false,"labelBound":false,"labelFlush":false}
}
}
